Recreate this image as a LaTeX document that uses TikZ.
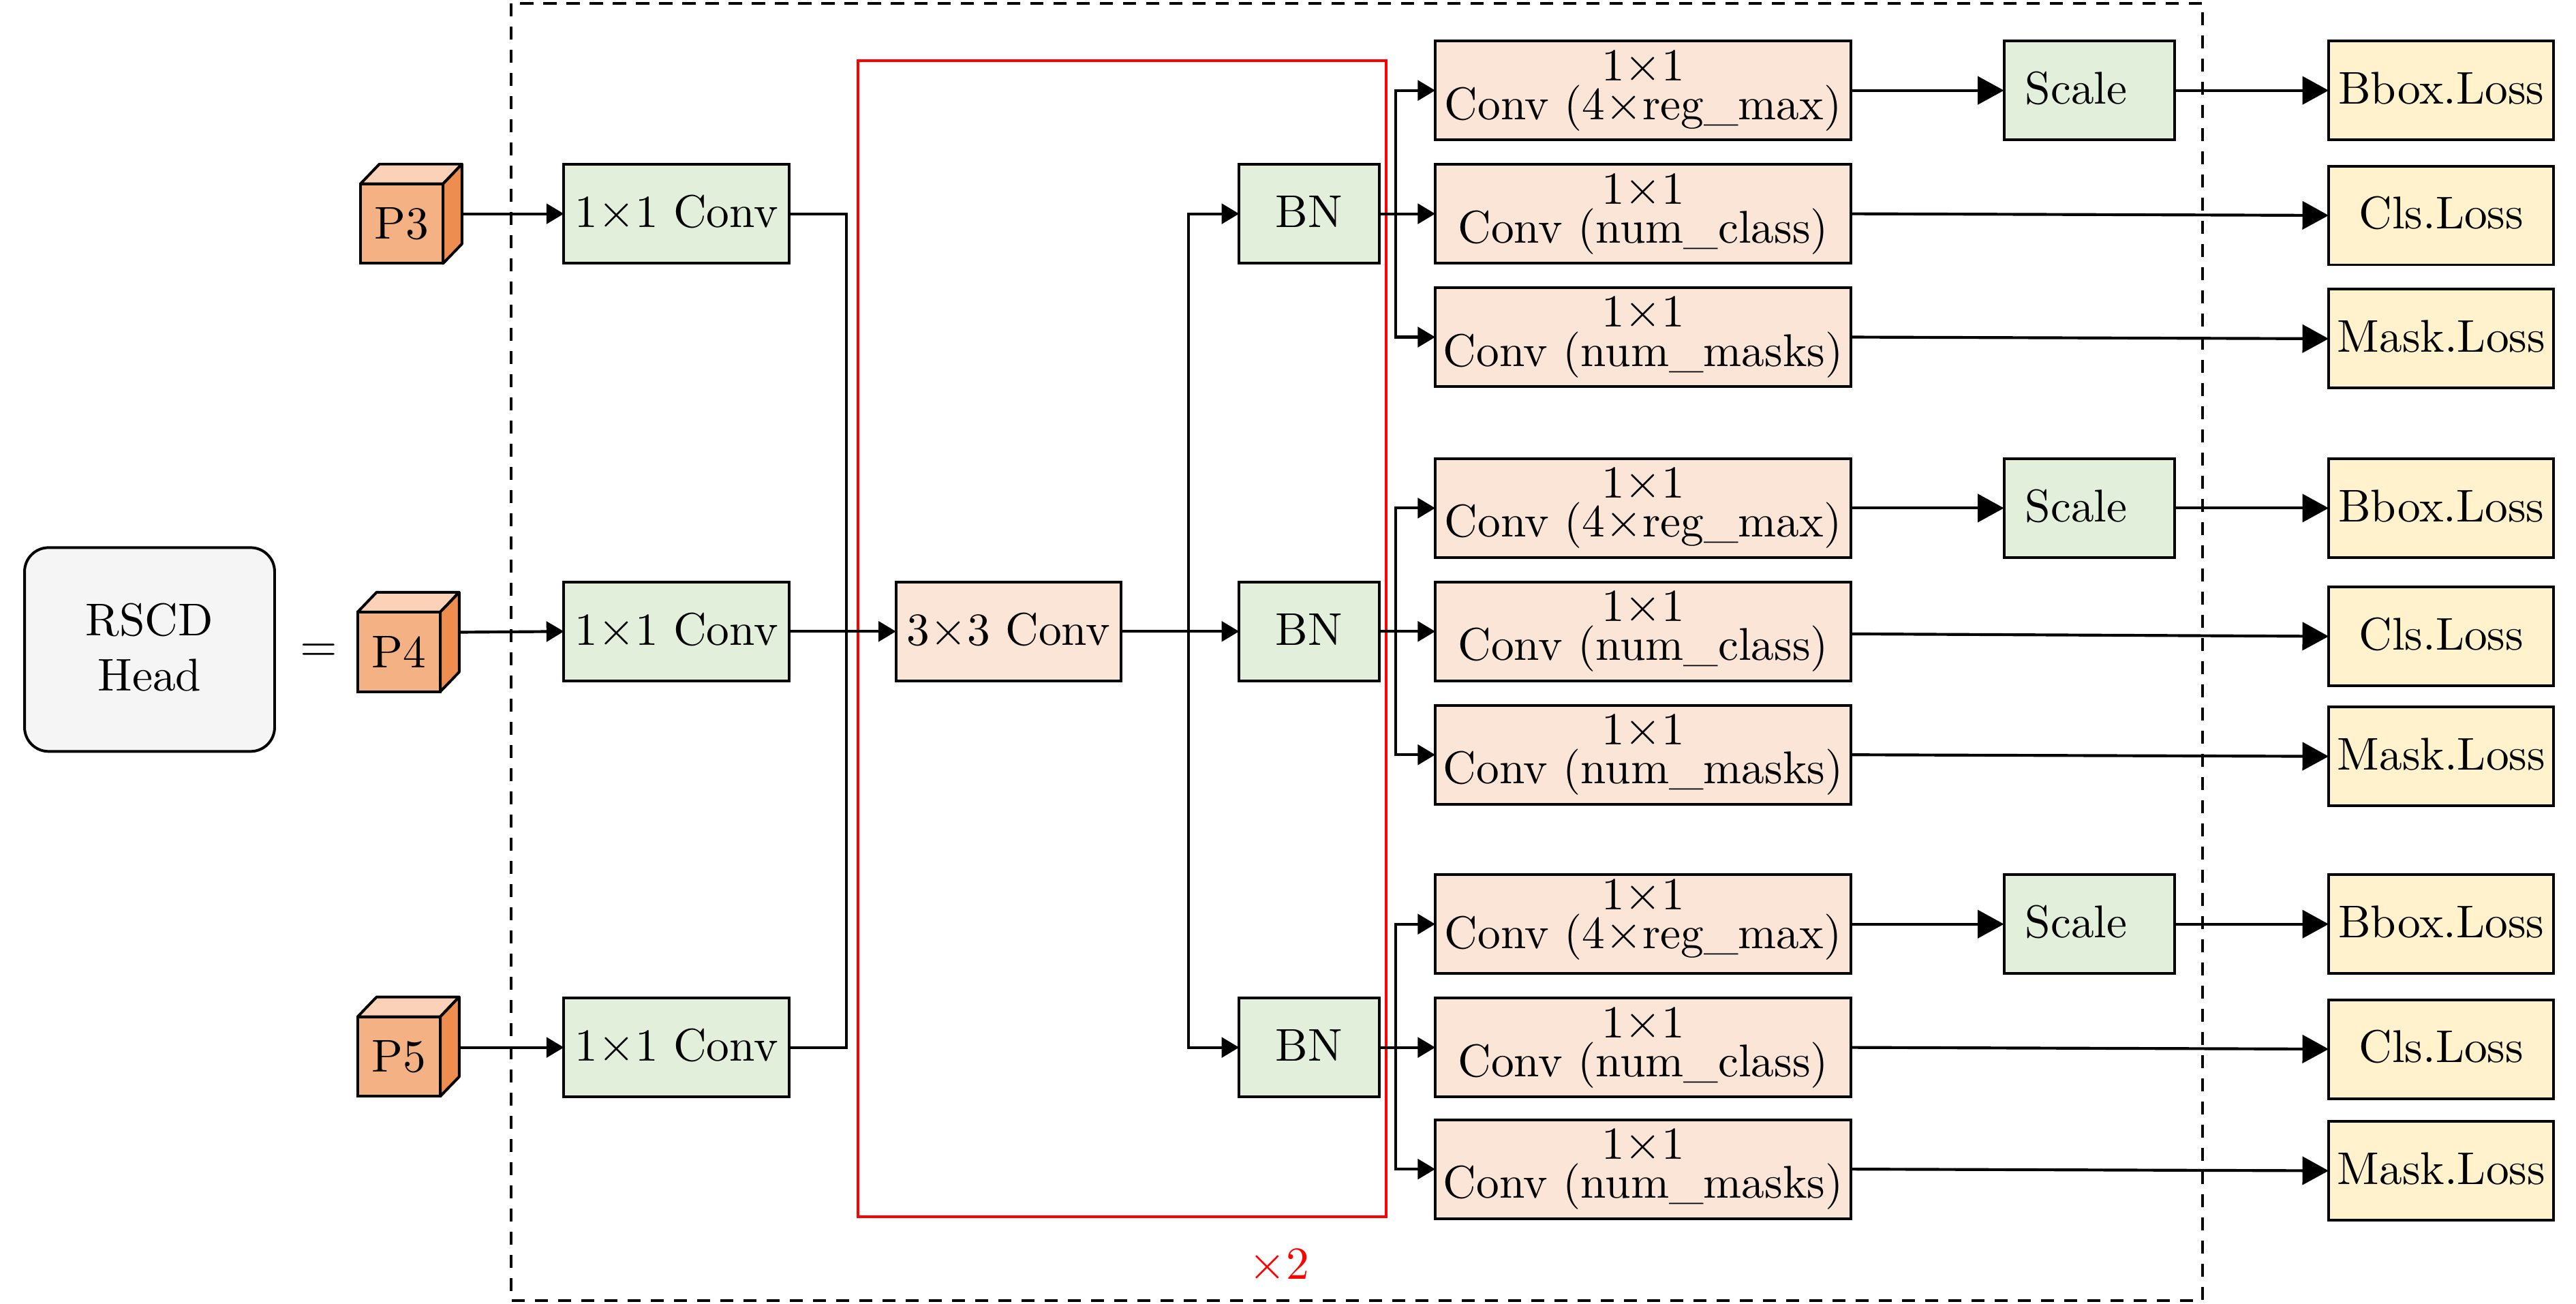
\documentclass[tikz,border=0pt]{standalone}
\usetikzlibrary{arrows.meta, calc}

\definecolor{greenfill}{HTML}{E2EFDA}
\definecolor{peachfill}{HTML}{FBE5D6}
\definecolor{yellowfill}{HTML}{FFF2CC}
\definecolor{headfill}{HTML}{F5F5F5}
\definecolor{cubefront}{HTML}{F4B183}
\definecolor{cubetop}{HTML}{FBD2B8}
\definecolor{cubeside}{HTML}{ED8D4F}

\tikzset{
  every node/.style={font=\fontsize{10.5}{12.6}\selectfont},
  block/.style={draw, line width=0.62pt, inner sep=0pt, outer sep=0pt, text height=7.2pt, text depth=1.05pt},
  convblock/.style={block, fill=greenfill, minimum width=51.5pt, minimum height=22.6pt},
  bnblock/.style={block, fill=greenfill, minimum width=32pt, minimum height=22.6pt},
  scaleblock/.style={block, fill=greenfill, minimum width=39.1pt, minimum height=22.6pt},
  lossblock/.style={block, fill=yellowfill, minimum width=51.5pt, minimum height=22.6pt},
  headconv/.style={draw, line width=0.62pt, inner sep=0pt, outer sep=0pt, fill=peachfill, minimum width=95.1pt, minimum height=22.6pt, align=center},
  cubefrontstyle/.style={draw, line width=0.62pt, inner sep=0pt, outer sep=0pt, fill=cubefront, minimum width=18.9pt, minimum height=18.2pt},
  link/.style={line width=0.65pt},
  arrowsmall/.style={link, -{Triangle[length=4pt, width=4.6pt]}},
  arrowbig/.style={link, -{Triangle[length=6pt, width=6.4pt]}}
}

\begin{document}
\begin{tikzpicture}[x=0.376pt, y=-0.376pt]
  \useasboundingbox (0,0) rectangle (1567,793);

  % Outer frames
  \draw[line width=0.62pt, dashed, dash pattern=on 3pt off 2.3pt] (311,2) rectangle (1340,791);
  \draw[red, line width=0.62pt] (522,37) rectangle (843,740);
  \node[red] (times) at (778,770) {$\times$2};

  % Head and equals sign
  \node[draw, line width=0.62pt, fill=headfill, rounded corners=5.5pt, minimum width=57.2pt, minimum height=46.6pt, align=center, inner sep=0pt] (head) at (91,395) {RSCD\\Head\rule[-1pt]{0pt}{0pt}};
  \node (equals) at (194,397) {$=$};

  % Cubes with the P levels
  \foreach \name/\x/\y/\txt/\ya in {p3/244.4/136/P3/130, p4/242.7/396.4/P4/384.5, p5/242.7/642.5/P5/637}{
    \node[cubefrontstyle] (\name) at (\x,\y) {\txt};
    \draw[line width=0.62pt, line join=round, fill=cubetop] (\name.north west) -- ++(11.5,-12) -- ++(50.2,0) -- (\name.north east) -- cycle;
    \draw[line width=0.62pt, line join=round, fill=cubeside] (\name.north east) -- ++(11.5,-12) -- ++(0,48.5) -- (\name.south east) -- cycle;
    \coordinate (\name side) at ($(\x,\ya)+(36,0)$);
  }

  % Left column, 3x3 block
  \node[convblock] (conv3) at (411.5,130) {1$\times$1 Conv};
  \node[convblock] (conv4) at (411.5,384) {1$\times$1 Conv};
  \node[convblock] (conv5) at (411.5,637) {1$\times$1 Conv};
  \node[block, fill=peachfill, minimum width=51.5pt, minimum height=22.6pt] (mid) at (613.5,384) {3$\times$3 Conv};

  % Three output groups
  \foreach \g/\ya/\yb/\yc/\la/\lb/\lc/\out/\rs in {a/55/130/205/55/131/206/130/0pt, b/309/384/459/309/387/460/385.5/0pt, c/562/637/711/562/638/712/637/4.6pt}{
    \node[bnblock] (bn\g) at (796.3,\yb) {BN};
    \node[headconv] (reg\g) at (999.5,\ya) {1$\times$1\\[-3.7pt]Conv (4$\times$reg\_max)\rule[-\rs]{0pt}{0pt}};
    \node[headconv] (cls\g) at (999.5,\yb) {1$\times$1\\[-3.7pt]Conv (num\_class)};
    \node[headconv] (msk\g) at (999.5,\yc) {1$\times$1\\[-3.7pt]Conv (num\_masks)};
    \node[scaleblock] (scale\g) at (1271,\ya) {\hspace*{-6pt}Scale};
    \node[lossblock] (lreg\g) at (1485,\la) {Bbox.Loss};
    \node[lossblock] (lcls\g) at (1485,\lb) {Cls.Loss};
    \node[lossblock] (lmsk\g) at (1485,\lc) {Mask.Loss};
    \coordinate (fork\g) at (849,\yb);
    \coordinate (clsout\g) at (1126,\out);
    % Arrows of the group
    \draw[link] (bn\g.east) -- (fork\g);
    \draw[arrowsmall] (fork\g) |- (reg\g.west);
    \draw[arrowsmall] (fork\g) -- (cls\g.west);
    \draw[arrowsmall] (fork\g) |- (msk\g.west);
    \draw[arrowbig] (reg\g.east) -- (scale\g.west);
    \draw[arrowbig] (scale\g.east) -- (lreg\g.west);
    \draw[arrowbig] (clsout\g) -- (lcls\g.west);
    \draw[arrowbig] (msk\g.east) -- (lmsk\g.west);
  }

  % Connections on the left
  \draw[arrowsmall] (p3side) -- (conv3.west);
  \draw[arrowsmall] (p4side) -- (conv4.west);
  \draw[arrowsmall] (p5side) -- (conv5.west);
  \coordinate (join) at (515,384);
  \coordinate (split) at (723,384);
  \draw[link] (conv3.east) -| (join);
  \draw[link] (conv5.east) -| (join);
  \draw[arrowsmall] (conv4.east) -- (mid.west);
  \draw[arrowsmall] (mid.east) -- (bnb.west);
  \draw[arrowsmall] (split) |- (bna.west);
  \draw[arrowsmall] (split) |- (bnc.west);
\end{tikzpicture}
\end{document}
